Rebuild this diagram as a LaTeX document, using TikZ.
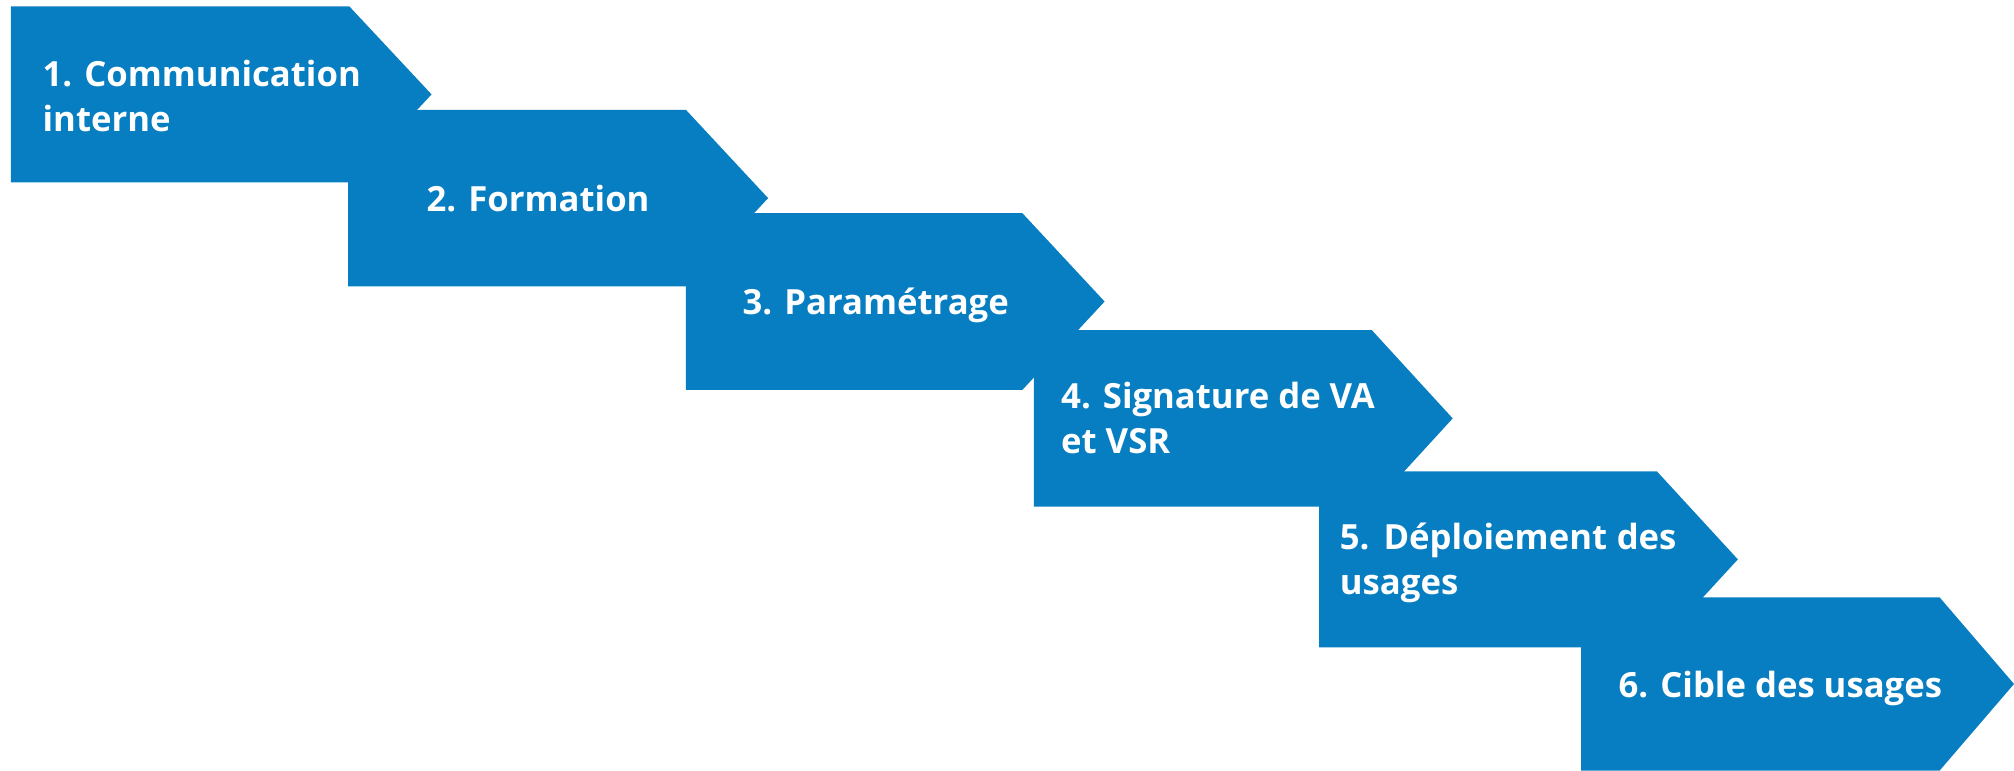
\documentclass[tikz,border=0pt]{standalone}
\usepackage{fontspec}
\setmainfont{Open Sans}
\definecolor{stepblue}{RGB}{7,126,193}
\tikzset{
  chevron/.style={fill=stepblue, draw=none},
  steplabel/.style={anchor=base west, inner sep=0pt, text=white, font=\fontsize{27}{35}\selectfont\bfseries, align=left}
}
\newcommand{\chevshape}[5]{%
  \fill[chevron] (#1,#2) -- (#4,#2) -- (#5,{(#2+#3)/2}) -- (#4,#3) -- (#1,#3) -- cycle;}
\begin{document}
\begin{tikzpicture}[x=1pt,y=-1pt]
\useasboundingbox (0,0) rectangle (1568,600);
\chevshape{8.5}{5}{142}{272}{336}
\chevshape{271}{85.5}{223}{534}{598}
\chevshape{534}{166}{303.5}{796}{860}
\chevshape{805}{257}{394.5}{1068}{1131}
\chevshape{1027}{367}{504}{1290}{1353}
\chevshape{1231}{465}{600}{1510}{1568}
\node[steplabel] (s1) at (33,102.5) {1. Communication\\interne};
\node[steplabel] (s2) at (332,164.7) {2. Formation};
\node[steplabel] (s3) at (578,245) {3. Paramétrage};
\node[steplabel] (s4) at (826,353) {4. Signature de VA\\et VSR};
\node[steplabel] (s5) at (1043,463) {\makebox[262pt][s]{5. Déploiement des}\\usages};
\node[steplabel] (s6) at (1260,543.3) {6. Cible des usages};
\end{tikzpicture}
\end{document}
